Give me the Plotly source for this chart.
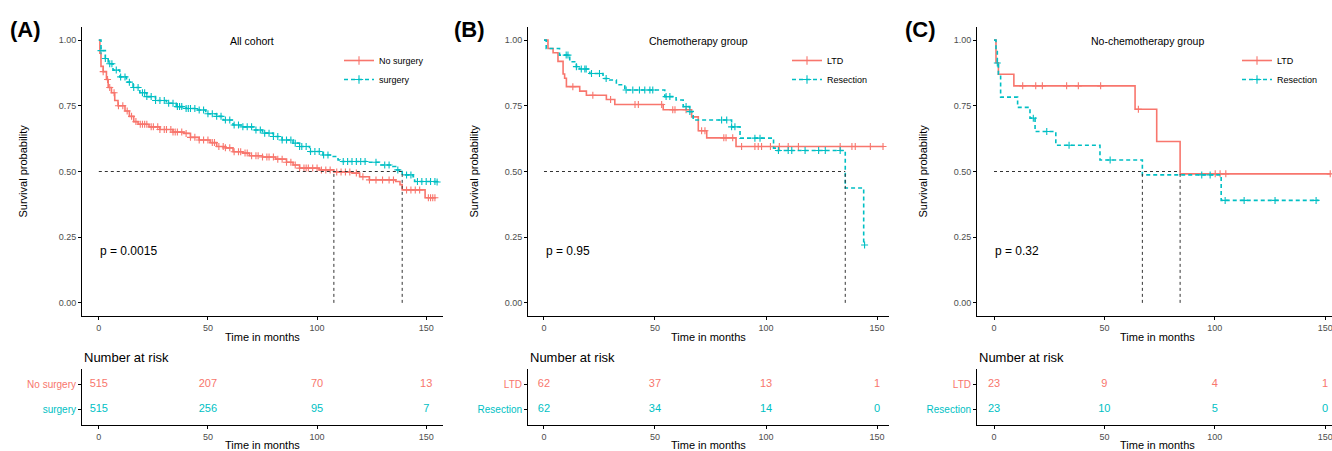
import numpy as np
import plotly.graph_objects as go

W, H = 1332, 451
RED = "#F8766D"
CYAN = "#00BFC4"
FONT = "Liberation Sans"

# ---------------- DATA ----------------
# Panel A: All cohort
a_nosurg_t = [0, 0.5, 1, 2, 3.5, 4.3, 5.8, 7.3, 8.8, 12, 14, 16, 18, 23, 28, 34, 39, 42, 46, 51, 54, 58, 61.5,
              66, 69, 75, 81, 86, 89, 92, 101, 107.7, 116, 119.5, 124, 136, 138, 139, 149.5, 154.5]
a_nosurg_s = [1, 0.95, 0.90, 0.88, 0.85, 0.82, 0.80, 0.77, 0.75, 0.73, 0.71, 0.69, 0.68, 0.67, 0.66, 0.65, 0.645,
              0.63, 0.62, 0.61, 0.595, 0.59, 0.575, 0.57, 0.56, 0.555, 0.547, 0.535, 0.525, 0.513, 0.506, 0.498,
              0.494, 0.48, 0.468, 0.462, 0.45, 0.43, 0.40, 0.40]
a_nosurg_c = [2, 4, 5, 7, 9, 11, 13, 15, 17, 19, 20, 21, 22, 24, 25, 27, 28, 30, 31, 33, 34, 35, 36, 38, 40, 42,
              44, 46, 48, 50, 52, 53, 55, 57, 58, 60, 62, 64, 65, 67, 68, 70, 72, 73, 75, 77, 78, 80, 82, 84, 86,
              88, 90, 92, 94, 95, 96, 98, 100, 102, 104, 106, 109, 111, 113, 115, 118, 121, 124, 127, 130, 133,
              135, 141, 143, 145, 147, 151, 152, 153, 154]
a_surg_t = [0, 1, 3, 4.3, 6.5, 9.6, 12.7, 15.7, 18.8, 22, 26, 31, 35.5, 40, 44.7, 49, 54, 57, 61.5, 66, 70.7, 75,
            80, 84, 89, 92, 96.6, 102.7, 107, 109.6, 110.5, 122.5, 128.6, 134.7, 136, 139, 144, 144.7, 155]
a_surg_s = [1, 0.96, 0.93, 0.91, 0.886, 0.86, 0.84, 0.82, 0.80, 0.785, 0.77, 0.76, 0.747, 0.74, 0.734, 0.72, 0.71,
            0.696, 0.677, 0.67, 0.658, 0.646, 0.633, 0.62, 0.608, 0.595, 0.576, 0.563, 0.557, 0.544, 0.538, 0.535,
            0.525, 0.519, 0.506, 0.487, 0.48, 0.462, 0.46]
a_surg_c = [1, 3, 5, 6, 8, 10, 12, 14, 16, 18, 20, 21, 22, 24, 26, 28, 30, 32, 34, 36, 37, 38, 40, 41, 42, 44, 46,
            48, 50, 52, 54, 56, 58, 60, 62, 64, 66, 68, 70, 72, 74, 76, 78, 80, 82, 84, 86, 88, 90, 92, 93, 95, 97,
            99, 101, 103, 105, 112, 114, 116, 118, 120, 122, 127, 131, 133, 137, 141, 143, 146, 148, 150, 152, 154,
            155]
a_groups = ["No surgery", "surgery"]
a_risk_nosurg = [515, 207, 70, 13]
a_risk_surg = [515, 256, 95, 7]

# Panel B: Chemotherapy group
b_ltd_t = [0, 1.8, 4.1, 6.3, 8.6, 9.3, 10.1, 16.1, 19.1, 28.1, 31.9, 53.7, 66.5, 69.5, 73.3, 86.5, 153]
b_ltd_s = [1, 0.968, 0.952, 0.919, 0.871, 0.855, 0.823, 0.806, 0.79, 0.774, 0.755, 0.735, 0.708, 0.655, 0.628,
           0.595, 0.595]
b_ltd_c = [13, 22, 30, 41, 42.5, 53, 58, 59, 64, 71, 72.5, 81, 82, 85, 89, 95, 96.5, 98, 102, 106, 110, 114.6,
           133.4, 138.7, 140.2, 147, 152.7]
b_res_t = [0, 1, 7, 11.6, 14.6, 16, 20.6, 26.6, 29.6, 32.6, 36.4, 54.4, 59.5, 62.7, 65.7, 67.2, 84.5, 88.3, 103.4,
           105, 135.7, 144, 144.4]
b_res_s = [1, 0.968, 0.943, 0.918, 0.899, 0.89, 0.873, 0.854, 0.848, 0.83, 0.81, 0.785, 0.772, 0.747, 0.728, 0.696,
           0.67, 0.627, 0.589, 0.58, 0.437, 0.22, 0.22]
b_res_c = [10, 10.8, 14.6, 16.8, 18.4, 19, 21.4, 25, 28, 37, 40, 43, 45.4, 47.7, 49, 55, 56.7, 64, 65.7, 80, 82.3,
           84.5, 86, 95, 97.3, 105.6, 110, 111.6, 117.6, 123.7, 126.7, 133.4, 144.4]
b_groups = ["LTD", "Resection"]
b_risk_ltd = [62, 37, 13, 1]
b_risk_res = [62, 34, 14, 0]

# Panel C: No-chemotherapy group
c_ltd_t = [0, 0.9, 2, 9, 63.9, 73.7, 84.3, 152.3]
c_ltd_s = [1, 0.914, 0.870, 0.826, 0.737, 0.614, 0.491, 0.491]
c_ltd_c = [13, 18.9, 21.9, 32.9, 38.2, 48.3, 65.4, 100.2, 102.4, 105, 152.3]
c_res_t = [0, 0.9, 1.5, 2, 3, 10.7, 16.3, 18.6, 28, 48, 67.2, 102.9, 147]
c_res_s = [1, 0.957, 0.913, 0.870, 0.783, 0.744, 0.703, 0.652, 0.60, 0.544, 0.487, 0.39, 0.39]
c_res_c = [1.5, 17.8, 23.9, 34, 52.6, 94.1, 97.9, 104.7, 113.3, 127.3, 145.9]
c_groups = ["LTD", "Resection"]
c_risk_ltd = [23, 9, 4, 1]
c_risk_res = [23, 10, 5, 0]

risk_times = [0, 50, 100, 150]
x_ticks = [0, 50, 100, 150]
y_ticks = [0, 0.25, 0.5, 0.75, 1.0]
y_ticklabels = ["0.00", "0.25", "0.50", "0.75", "1.00"]

panel_labels = ["(A)", "(B)", "(C)"]
panel_titles = ["All cohort", "Chemotherapy group", "No-chemotherapy group"]
p_values = ["p = 0.0015", "p = 0.95", "p = 0.32"]

panels = [
    dict(groups=a_groups, curves=[(a_nosurg_t, a_nosurg_s, a_nosurg_c), (a_surg_t, a_surg_s, a_surg_c)],
         risk=[a_risk_nosurg, a_risk_surg]),
    dict(groups=b_groups, curves=[(b_ltd_t, b_ltd_s, b_ltd_c), (b_res_t, b_res_s, b_res_c)],
         risk=[b_risk_ltd, b_risk_res]),
    dict(groups=c_groups, curves=[(c_ltd_t, c_ltd_s, c_ltd_c), (c_res_t, c_res_s, c_res_c)],
         risk=[c_risk_ltd, c_risk_res]),
]

# ---------------- LAYOUT (pixel geometry) ----------------
geom = [
    dict(left=82, right=443, xr=[-7.7, 157.7], label_x=8, ylab_x=22, leg_x=339),
    dict(left=528, right=889, xr=[-7.2, 155.4], label_x=452, ylab_x=473, leg_x=787),
    dict(left=977, right=1332, xr=[-7.7, 153.1], label_x=903, ylab_x=922, leg_x=1237),
]
PLOT_TOP, PLOT_BOT = 27, 316
TAB_TOP, TAB_BOT = 369, 425


def fx(p):
    return p / W


def fy(p):
    return 1 - p / H


def surv_at(t, s, c):
    t = np.asarray(t)
    s = np.asarray(s)
    idx = np.searchsorted(t, np.asarray(c), side="right") - 1
    return s[idx]


def median_time(t, s):
    for ti, si in zip(t, s):
        if si <= 0.5:
            return ti
    return None


colors = [RED, CYAN]
dashes = ["solid", "4px,3px"]
MED_DASH = "3px,3px"

fig = go.Figure()
layout = dict(width=W, height=H, margin=dict(l=0, r=0, t=0, b=0), paper_bgcolor="white",
              plot_bgcolor="white", showlegend=True, font=dict(family=FONT, color="black"))
annotations = []

axis_common = dict(showline=True, linecolor="black", linewidth=1, ticks="outside", ticklen=3,
                   tickcolor="black", tickwidth=1, showgrid=False, zeroline=False,
                   ticklabeloverflow="allow",
                   tickfont=dict(family=FONT, size=9, color="#4D4D4D"))

for i, (pan, g) in enumerate(zip(panels, geom)):
    k_plot = i + 1
    k_tab = i + 4
    xa = "x" if k_plot == 1 else f"x{k_plot}"
    ya = "y" if k_plot == 1 else f"y{k_plot}"
    xt = f"x{k_tab}"
    yt = f"y{k_tab}"
    leg = "legend" if i == 0 else f"legend{i + 1}"

    layout["xaxis" if k_plot == 1 else f"xaxis{k_plot}"] = dict(
        axis_common, domain=[fx(g["left"]), min(1, fx(g["right"]))], range=g["xr"], anchor=ya,
        tickvals=x_ticks)
    layout["yaxis" if k_plot == 1 else f"yaxis{k_plot}"] = dict(
        axis_common, domain=[fy(PLOT_BOT), fy(PLOT_TOP)], range=[-0.05, 1.05], anchor=xa,
        tickvals=y_ticks, ticktext=y_ticklabels)
    layout[f"xaxis{k_tab}"] = dict(
        axis_common, domain=[fx(g["left"]), min(1, fx(g["right"]))], range=g["xr"], anchor=yt,
        tickvals=x_ticks)
    layout[f"yaxis{k_tab}"] = dict(
        axis_common, domain=[fy(TAB_BOT), fy(TAB_TOP)], range=[0.4, 2.6], anchor=xt,
        tickvals=[2, 1],
        ticktext=[f"<span style='color:{colors[j]}'>{pan['groups'][j]}</span>" for j in range(2)],
        tickfont=dict(family=FONT, size=10, color="#4D4D4D"))

    layout[leg] = dict(x=fx(g["leg_x"]), y=fy(46), xanchor="left", yanchor="top",
                       bgcolor="rgba(0,0,0,0)", font=dict(family=FONT, size=9, color="black"),
                       itemwidth=30, tracegroupgap=0)

    medians = []
    for j, (t, s, c) in enumerate(pan["curves"]):
        fig.add_trace(go.Scatter(
            x=t, y=s, mode="lines", line=dict(color=colors[j], width=1.6, shape="hv", dash=dashes[j]),
            name=pan["groups"][j], xaxis=xa, yaxis=ya, legend=leg,
            showlegend=False, hoverinfo="skip"))
        cy = surv_at(t, s, c)
        fig.add_trace(go.Scatter(
            x=c, y=cy, mode="markers", xaxis=xa, yaxis=ya, legend=leg, showlegend=False,
            marker=dict(symbol="cross-thin", size=5, line=dict(color=colors[j], width=1.1), color=colors[j]),
            hoverinfo="skip"))
        # legend entry
        fig.add_trace(go.Scatter(
            x=[None], y=[None], mode="lines+markers", name=pan["groups"][j], xaxis=xa, yaxis=ya, legend=leg,
            line=dict(color=colors[j], width=1.6, dash=dashes[j]),
            marker=dict(symbol="cross-thin", size=6, line=dict(color=colors[j], width=1.1))))
        m = median_time(t, s)
        if m is not None:
            medians.append(m)
    if medians:
        fig.add_trace(go.Scatter(x=[0, max(medians)], y=[0.5, 0.5], mode="lines", xaxis=xa, yaxis=ya,
                                 line=dict(color="#333333", width=1, dash=MED_DASH), showlegend=False,
                                 hoverinfo="skip"))
        for m in medians:
            fig.add_trace(go.Scatter(x=[m, m], y=[0, 0.5], mode="lines", xaxis=xa, yaxis=ya,
                                     line=dict(color="#333333", width=1, dash=MED_DASH), showlegend=False,
                                     hoverinfo="skip"))

    # risk table numbers
    for j, row in enumerate(pan["risk"]):
        fig.add_trace(go.Scatter(x=risk_times, y=[2 - j] * len(risk_times), mode="text",
                                 text=[str(v) for v in row], textposition="middle center",
                                 textfont=dict(family=FONT, size=11, color=colors[j]),
                                 xaxis=xt, yaxis=yt, showlegend=False, hoverinfo="skip",
                                 cliponaxis=False))

    cx = (g["left"] + g["right"]) / 2 if i < 2 else (g["left"] + 1338) / 2
    annotations += [
        dict(text=f"<b>{panel_labels[i]}</b>", x=fx(g["label_x"]), y=fy(29), xref="paper", yref="paper",
             xanchor="left", yanchor="middle", showarrow=False, font=dict(family=FONT, size=22, color="black")),
        dict(text=panel_titles[i], x=fx(cx - 10), y=fy(41), xref="paper", yref="paper", xanchor="center",
             yanchor="middle", showarrow=False, font=dict(family=FONT, size=10.5, color="black")),
        dict(text=p_values[i], x=fx(g["left"] + 16), y=fy(251), xref="paper", yref="paper", xanchor="left",
             yanchor="middle", showarrow=False, font=dict(family=FONT, size=12, color="black")),
        dict(text="Survival probability", x=fx(g["ylab_x"]), y=fy((PLOT_TOP + PLOT_BOT) / 2), xref="paper",
             yref="paper", xanchor="center", yanchor="middle", textangle=-90, showarrow=False,
             font=dict(family=FONT, size=11, color="black")),
        dict(text="Time in months", x=fx(cx), y=fy(337), xref="paper", yref="paper", xanchor="center",
             yanchor="middle", showarrow=False, font=dict(family=FONT, size=11, color="black")),
        dict(text="Time in months", x=fx(cx), y=fy(445), xref="paper", yref="paper", xanchor="center",
             yanchor="middle", showarrow=False, font=dict(family=FONT, size=11, color="black")),
        dict(text="Number at risk", x=fx(g["left"]), y=fy(357), xref="paper", yref="paper", xanchor="left",
             yanchor="middle", showarrow=False, font=dict(family=FONT, size=13, color="black")),
    ]

layout["annotations"] = annotations
fig.update_layout(**layout)
fig.write_html("out.html")
